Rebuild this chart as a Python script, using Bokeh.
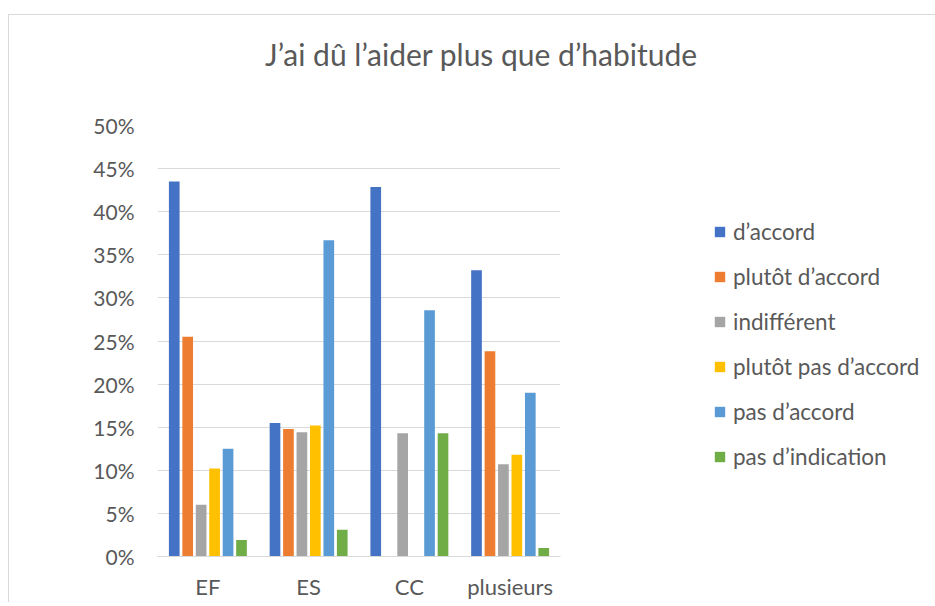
from bokeh.plotting import figure
from bokeh.models import FactorRange, Range1d, NumeralTickFormatter, Legend, LegendItem, SingleIntervalTicker, Div
from bokeh.layouts import column
from bokeh.transform import dodge
from bokeh.embed import file_html
from bokeh.resources import INLINE

# ---- data ----
title_text = "J’ai dû l’aider plus que d’habitude"
categories = ["EF", "ES", "CC", "plusieurs"]
series_names = ["d’accord", "plutôt d’accord", "indifférent",
                "plutôt pas d’accord", "pas d’accord", "pas d’indication"]
d_accord = [0.435, 0.155, 0.4286, 0.332]
plutot_d_accord = [0.255, 0.148, 0.0, 0.238]
indifferent = [0.060, 0.144, 0.1429, 0.107]
plutot_pas_d_accord = [0.102, 0.152, 0.0, 0.118]
pas_d_accord = [0.125, 0.367, 0.2857, 0.190]
pas_d_indication = [0.019, 0.031, 0.1429, 0.010]
series_values = [d_accord, plutot_d_accord, indifferent,
                 plutot_pas_d_accord, pas_d_accord, pas_d_indication]
colors = ["#4472C4", "#ED7D31", "#A5A5A5", "#FFC000", "#5B9BD5", "#70AD47"]

FONT = "Lato"
TEXT_COLOR = "#595959"
GRID_COLOR = "#d9d9d9"

title_div = Div(
    text=(f'<div style="margin:0;padding:21px 0 0 256px;font-family:Lato;'
          f'font-size:30px;line-height:36px;color:{TEXT_COLOR};white-space:nowrap">'
          f'{title_text}</div>'),
    width=926, height=90, margin=0)

p = figure(x_range=FactorRange(*categories), y_range=Range1d(0, 0.5),
           frame_width=403, frame_height=431,
           output_backend="svg", toolbar_location=None,
           min_border_left=148, min_border_right=0,
           min_border_top=20, min_border_bottom=0, margin=0)
p.outline_line_color = None
p.background_fill_color = "white"
p.border_fill_color = "white"

step = 0.1335
bw = 0.106
items = []
for i, (name, vals, col) in enumerate(zip(series_names, series_values, colors)):
    src = {"cat": categories, "val": vals}
    r = p.vbar(x=dodge("cat", (i - 2.5) * step, range=p.x_range), top="val",
               width=bw, source=src, fill_color=col, line_color=None)
    items.append(LegendItem(label=name, renderers=[r]))

# axes
p.xgrid.grid_line_color = None
p.ygrid.grid_line_color = GRID_COLOR
p.ygrid.grid_line_width = 1
p.yaxis.ticker = SingleIntervalTicker(interval=0.05, num_minor_ticks=0)
p.yaxis.formatter = NumeralTickFormatter(format="0%")
p.yaxis.axis_line_color = None
p.yaxis.major_tick_line_color = None
p.yaxis.minor_tick_line_color = None
p.yaxis.major_label_standoff = 17
p.yaxis.major_label_text_font_size = "21px"
p.xaxis.axis_line_color = GRID_COLOR
p.xaxis.major_tick_line_color = None
p.xaxis.minor_tick_line_color = None
p.xaxis.major_label_standoff = 10
p.xaxis.major_label_text_font_size = "22px"
for ax in (p.xaxis, p.yaxis):
    ax.major_label_text_font = FONT
    ax.major_label_text_color = TEXT_COLOR

legend = Legend(items=items, location=(153, 86), orientation="vertical",
                padding=0, margin=0, border_line_color=None,
                background_fill_alpha=0,
                glyph_width=13, glyph_height=13, label_standoff=7,
                label_height=26, spacing=18,
                label_text_font=FONT, label_text_font_size="22.5px",
                label_text_color=TEXT_COLOR)
p.add_layout(legend, "right")

layout = column(title_div, p, spacing=0, margin=(14, 0, 0, 8))
layout.styles = {"border-left": f"1px solid {GRID_COLOR}", "border-top": f"1px solid {GRID_COLOR}"}

open("out.html", "w").write(file_html(layout, INLINE))
